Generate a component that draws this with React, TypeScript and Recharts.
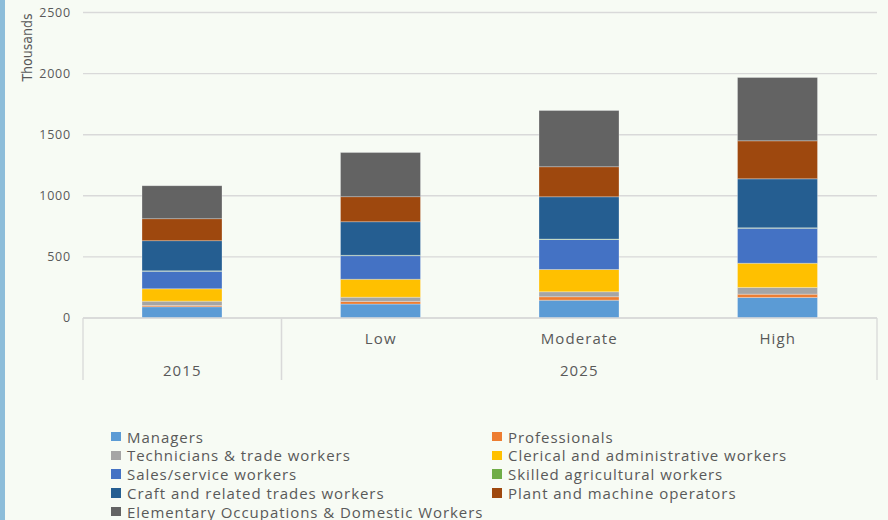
import React from 'react';
import { BarChart, Bar, XAxis, YAxis, CartesianGrid } from 'recharts';

// Workforce by occupation (thousands), 2015 and three 2025 scenarios
const scenarios = ['', 'Low', 'Moderate', 'High'];
const years = ['2015', '2025', '2025', '2025'];

const managers = [92, 114, 146, 168];
const professionals = [10, 22, 28, 27];
const technicians = [36, 34, 41, 55];
const clerical = [101, 147, 182, 198];
const salesService = [144, 193, 246, 287];
const skilledAgricultural = [3, 3, 3, 3];
const craftTrades = [247, 275, 346, 401];
const plantOperators = [180, 205, 246, 311];
const elementary = [270, 361, 460, 518];

const yTicks = [0, 500, 1000, 1500, 2000, 2500];

const series = [
  { key: 'managers', name: 'Managers', color: '#5B9BD5', values: managers },
  { key: 'professionals', name: 'Professionals', color: '#ED7D31', values: professionals },
  { key: 'technicians', name: 'Technicians & trade workers', color: '#A5A5A5', values: technicians },
  { key: 'clerical', name: 'Clerical and administrative workers', color: '#FFC000', values: clerical },
  { key: 'sales', name: 'Sales/service workers', color: '#4472C4', values: salesService },
  { key: 'agri', name: 'Skilled agricultural workers', color: '#70AD47', values: skilledAgricultural },
  { key: 'craft', name: 'Craft and related trades workers', color: '#255E91', values: craftTrades },
  { key: 'plant', name: 'Plant and machine operators', color: '#9E480E', values: plantOperators },
  { key: 'elementary', name: 'Elementary Occupations & Domestic Workers', color: '#636363', values: elementary },
];

const data = scenarios.map((s, i) => {
  const row: Record<string, string | number> = { id: `${years[i]}|${s}`, scenario: s, year: years[i] };
  series.forEach((sr) => {
    row[sr.key] = sr.values[i];
  });
  return row;
});

const TEXT = '#595959';
const GRID = '#D9D9D9';
const FONT = '"Open Sans", "DejaVu Sans", sans-serif';

// Two-level category axis: scenario on the first row, year group below,
// with vertical separators at group boundaries.
function CategoryTick(props: any) {
  const { x, y, payload, index } = props;
  const i: number = payload?.index ?? index;
  const half: number = payload?.offset ?? 99.25;
  const year = years[i];
  const first = years.indexOf(year);
  const last = years.lastIndexOf(year);
  const textStyle = { fontFamily: FONT, fontSize: 15, letterSpacing: 1.1, fill: TEXT };
  return (
    <g>
      <text x={x} y={y + 25.5} textAnchor="middle" style={textStyle}>
        {scenarios[i]}
      </text>
      {i === first && (
        <>
          <text x={x + (last - first) * half} y={y + 57.5} textAnchor="middle" style={textStyle}>
            {year}
          </text>
          <line x1={x - half} x2={x - half} y1={y} y2={y + 62} stroke={GRID} strokeWidth={1.3} />
        </>
      )}
      {i === last && (
        <line x1={x + half} x2={x + half} y1={y} y2={y + 62} stroke={GRID} strokeWidth={1.3} />
      )}
    </g>
  );
}

function Legend() {
  return (
    <div style={{ position: 'absolute', left: 0, top: 0 }}>
      {series.map((s, k) => {
        const row = Math.floor(k / 2);
        const col = k % 2;
        return (
          <div
            key={s.key}
            style={{
              position: 'absolute',
              left: col === 0 ? 111 : 492,
              top: 427.5 + row * 18.75,
              height: 18,
              display: 'flex',
              alignItems: 'center',
              whiteSpace: 'nowrap',
              fontFamily: FONT,
              fontSize: 15,
              letterSpacing: 0.95,
              color: TEXT,
            }}
          >
            <span style={{ display: 'inline-block', width: 9.5, height: 9.5, background: s.color, marginRight: 6.5 }} />
            <span>{s.name}</span>
          </div>
        );
      })}
    </div>
  );
}

export default function App() {
  return (
    <div
      style={{
        position: 'absolute',
        left: 0,
        top: 0,
        width: 888,
        height: 520,
        background: '#F7FBF4',
        overflow: 'hidden',
      }}
    >
      <div style={{ position: 'absolute', left: 0, top: 0, width: 5, height: 520, background: '#8DBDD9' }} />
      <div style={{ position: 'absolute', left: 0, top: 0 }}>
        <BarChart
          width={888}
          height={520}
          data={data}
          margin={{ top: 12.5, right: 11, bottom: 140, left: 0 }}
          barSize={80}
        >
          <CartesianGrid vertical={false} stroke={GRID} strokeWidth={1.4} />
          <XAxis
            dataKey="id"
            height={62}
            interval={0}
            tickLine={false}
            tickSize={0}
            tickMargin={0}
            axisLine={{ stroke: GRID, strokeWidth: 1.4 }}
            tick={<CategoryTick />}
          />
          <YAxis
            width={83}
            domain={[0, 2500]}
            ticks={yTicks}
            interval={0}
            axisLine={false}
            tickLine={false}
            tickSize={0}
            tickMargin={12}
            tick={{ fontFamily: FONT, fontSize: 12.5, letterSpacing: 0.8, fill: TEXT }}
            label={{
              content: () => (
                <text
                  x={32}
                  y={47.5}
                  textAnchor="middle"
                  transform="rotate(-90, 32, 47.5)"
                  style={{ fontFamily: '"Liberation Sans Narrow", "DejaVu Sans Condensed", sans-serif', fontSize: 14, fill: TEXT }}
                >
                  Thousands
                </text>
              ),
            }}
          />
          {series.map((s) => (
            <Bar
              key={s.key}
              dataKey={s.key}
              name={s.name}
              stackId="total"
              fill={s.color}
              stroke="rgba(255,255,255,0.35)"
              strokeWidth={0.8}
              isAnimationActive={false}
            />
          ))}
        </BarChart>
      </div>
      <Legend />
    </div>
  );
}
